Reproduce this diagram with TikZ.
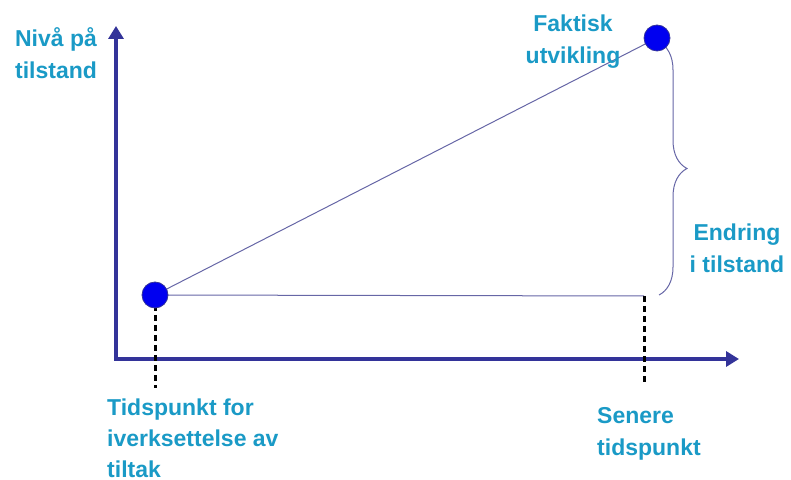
\documentclass[tikz,border=0pt]{standalone}
\usepackage{fontspec}
\setmainfont{Liberation Sans}
\usetikzlibrary{arrows.meta,decorations.pathreplacing}

\definecolor{labelblue}{HTML}{1A9AC6}
\definecolor{axisblue}{HTML}{333399}
\definecolor{lineblue}{HTML}{6666A6}
\definecolor{dotblue}{HTML}{0000F0}

\tikzset{
  dot/.style={circle, fill=dotblue, draw=axisblue, line width=0.8pt, minimum size=26pt, inner sep=0pt},
  axis/.style={axisblue, line width=4.5pt, {Triangle[length=13pt,width=15pt]}-{Triangle[length=13pt,width=15pt]}},
  trend/.style={lineblue, line width=1pt},
  guide/.style={black, line width=3pt, dash pattern=on 6pt off 4pt},
  bracket/.style={lineblue, line width=1pt, decorate, decoration={brace, amplitude=28pt}},
  label/.style={labelblue, font=\bfseries\fontsize{23}{32}\selectfont, inner sep=0pt},
}

\begin{document}
\begin{tikzpicture}[x=1pt, y=1pt]
  \useasboundingbox (0,0) rectangle (791,479);

  % Define coordinates
  \coordinate (origin) at (116,120);
  \coordinate (ytip)   at (116,453);
  \coordinate (xtip)   at (739,120);
  \coordinate (start)  at (155,184);
  \coordinate (end)    at (657,441);
  \coordinate (later)  at (644,183);
  \coordinate (start-low) at (155,91);
  \coordinate (later-low) at (644,94);

  % Axes
  \draw[axis] (ytip) -- (origin) -- (xtip);

  % Connect the points
  \draw[trend] (start) -- (end);
  \draw[trend] (start) -- (later);
  \draw[guide] (start) -- (start-low);
  \draw[guide] (later) -- (later-low);
  \draw[bracket] (659,437) -- (659,184);

  % Dots on top
  \node[dot] (start-dot) at (start) {};
  \node[dot] (end-dot)   at (end) {};

  % Labels
  \node[label, align=center]             (level)       at (56,426)  {Nivå på\\tilstand};
  \node[label, align=center]             (actual)      at (573,437) {Faktisk\\utvikling};
  \node[label, align=center]             (change)      at (737,231) {Endring\\i tilstand};
  \node[label, align=left, anchor=west, font=\bfseries\fontsize{23}{31}\selectfont]
                                         (start-label) at (107,41)  {Tidspunkt for\\iverksettelse av\\tiltak};
  \node[label, align=left, anchor=west]  (later-label) at (597,45)  {Senere\\tidspunkt};

\end{tikzpicture}
\end{document}
